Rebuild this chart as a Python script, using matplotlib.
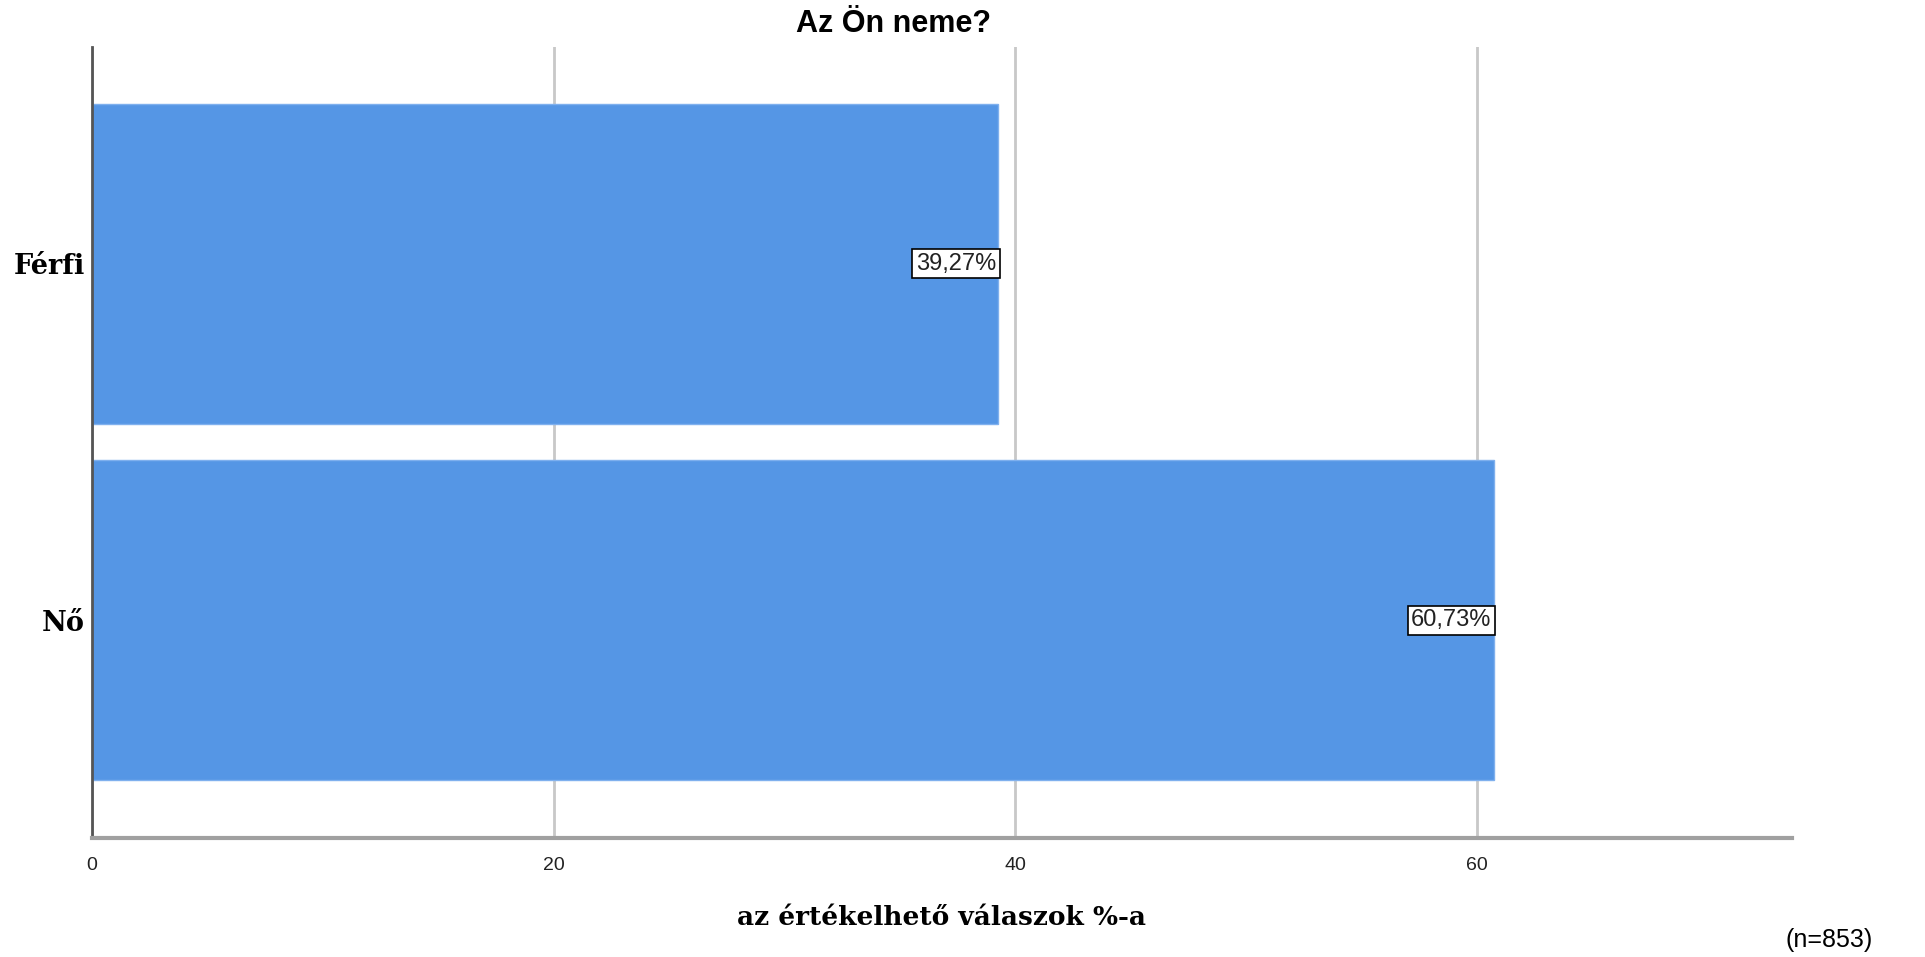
import matplotlib.pyplot as plt

# data
categories = ['Férfi', 'Nő']
percents = [39.27, 60.73]
value_labels = ['39,27%', '60,73%']
xticks = [0, 20, 40, 60]

fig = plt.figure(figsize=(19.25, 9.57), dpi=100)
ax = fig.add_axes([0.0478, 0.1243, 0.8831, 0.8266])

ypos = [1, 0]
ax.barh(ypos, percents, height=0.897, color='#5596e5', edgecolor='#7fb0ee', linewidth=1, zorder=2)

for y, v, lab in zip(ypos, percents, value_labels):
    ax.text(v - 0.1, y, lab, ha='right', va='center', fontsize=17, family='Liberation Sans',
            color='#222222', zorder=4,
            bbox=dict(boxstyle='square,pad=0.15', fc='white', ec='black', lw=1.2))

ax.set_xlim(0, 73.65)
ax.set_ylim(-0.61, 1.607)
ax.set_xticks(xticks)
ax.set_xticklabels([str(t) for t in xticks], fontsize=14, family='Liberation Sans', color='#222222')
ax.set_yticks(ypos)
ax.set_yticklabels(categories, fontsize=19.5, family='DejaVu Serif', fontweight='bold')
ax.tick_params(axis='both', length=0)
ax.tick_params(axis='x', pad=14)
ax.tick_params(axis='y', pad=5)

ax.grid(axis='x', color='#c8c8c8', linewidth=2, zorder=1)
ax.set_axisbelow(True)
for s in ['top', 'right']:
    ax.spines[s].set_visible(False)
ax.spines['left'].set_color('#555555')
ax.spines['left'].set_linewidth(2)
ax.spines['bottom'].set_color('#a0a0a0')
ax.spines['bottom'].set_linewidth(3)

ax.set_xlabel('az értékelhető válaszok %-a', fontsize=19, family='DejaVu Serif', fontweight='bold', labelpad=22)
fig.text(0.464, 0.975, 'Az Ön neme?', ha='center', va='center', fontsize=22,
         family='Liberation Sans', fontweight='bold')
fig.text(0.973, 0.018, '(n=853)', ha='right', va='center', fontsize=18, family='Liberation Sans')

fig.savefig('out.png', dpi=100)
